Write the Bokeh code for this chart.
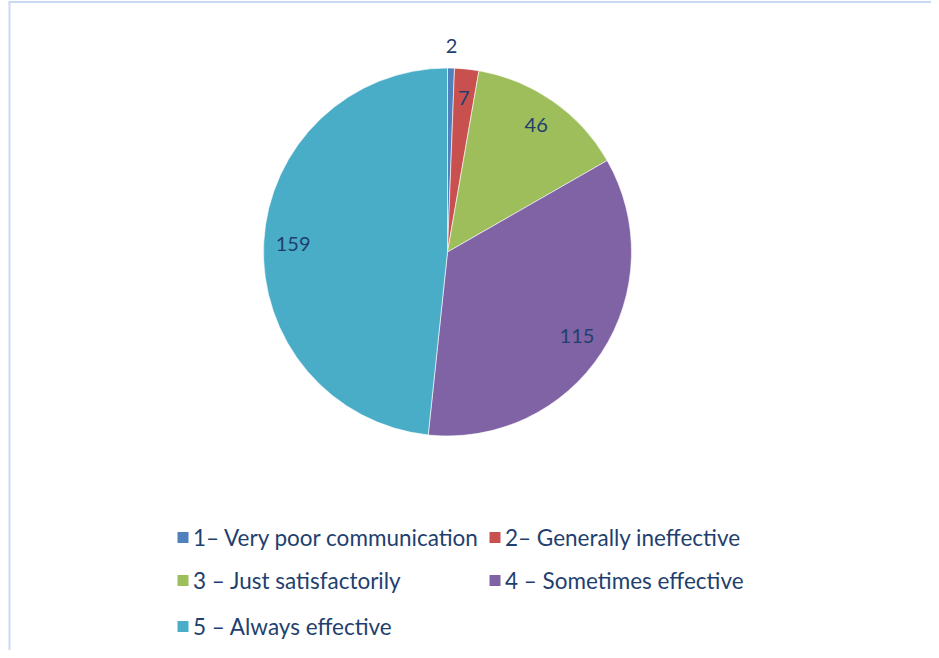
import math
from bokeh.plotting import figure
from bokeh.models import Range1d, ColumnDataSource
from bokeh.core.properties import value
from bokeh.embed import file_html
from bokeh.resources import INLINE

# ---- data ----
categories = ["1– Very poor communication", "2– Generally ineffective",
              "3 – Just satisfactorily", "4 – Sometimes effective",
              "5 – Always effective"]
counts = [2, 7, 46, 115, 159]
colors = ["#4F81BD", "#C8504E", "#9DBE5A", "#8063A4", "#4AADC8"]

# ---- layout (page px -> data units: x = px, y = 650 - py) ----
W, H = 931, 650
CX, CY, R = 447, 398.5, 184
TEXT_COLOR = "#1F3F6E"

p = figure(width=W, height=H, x_range=Range1d(0, W), y_range=Range1d(0, H),
           output_backend="svg", toolbar_location=None, min_border=0,
           x_axis_type=None, y_axis_type=None)
p.grid.visible = False
p.outline_line_color = None
p.background_fill_color = "white"
p.border_fill_color = "white"

total = sum(counts)
starts, ends, lx, ly = [], [], [], []
cum = 0
for c in counts:
    a0 = math.pi / 2 - 2 * math.pi * cum / total
    cum += c
    a1 = math.pi / 2 - 2 * math.pi * cum / total
    starts.append(a0)
    ends.append(a1)
    mid = (a0 + a1) / 2
    f = 1.12 if c / total < 0.01 else 0.84
    lx.append(CX + R * f * math.cos(mid))
    ly.append(CY + R * f * math.sin(mid))

src = ColumnDataSource(dict(start=starts, end=ends, color=colors,
                            lx=lx, ly=ly, lab=[str(c) for c in counts]))
p.wedge(x=CX, y=CY, radius=R, start_angle="start", end_angle="end",
        direction="clock", fill_color="color", line_color="white",
        line_width=0.6, source=src)
p.text(x="lx", y="ly", text="lab", source=src, text_align="center",
       text_baseline="middle", text_font=value("Lato"),
       text_font_size="20px", text_color=TEXT_COLOR)

# ---- legend (manual) ----
col_x = [182.5, 494.5]
row_y = [650 - 537, 650 - 580, 650 - 626]
leg_x, leg_y = [], []
for i in range(len(categories)):
    leg_x.append(col_x[i % 2])
    leg_y.append(row_y[i // 2])
lsrc = ColumnDataSource(dict(x=leg_x, y=leg_y, tx=[x + 10 for x in leg_x],
                             color=colors, lab=categories))
p.rect(x="x", y="y", width=11, height=11, fill_color="color",
       line_color=None, source=lsrc)
p.text(x="tx", y="y", text="lab", source=lsrc, text_align="left",
       text_baseline="middle", text_font=value("Lato"),
       text_font_size="22.5px", text_color=TEXT_COLOR)

# ---- chart frame ----
p.segment(x0=[9, 8], y0=[0, H - 1.5], x1=[9, W], y1=[H - 1.5, H - 1.5],
          line_color="#C9DAF0", line_width=2)

open("out.html", "w").write(file_html(p, INLINE))
